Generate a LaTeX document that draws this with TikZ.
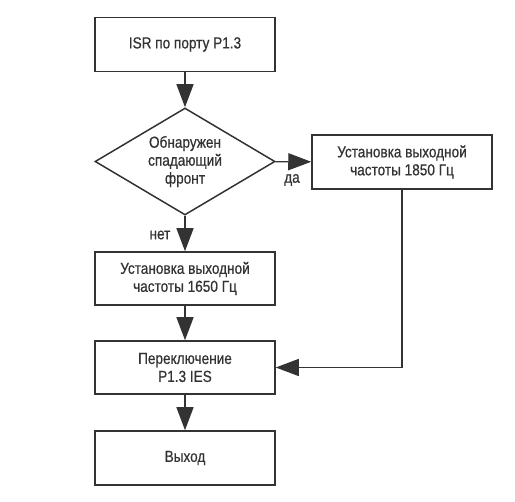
\documentclass[tikz,border=0pt]{standalone}
\usepackage{fontspec}
\setmainfont{Liberation Sans}[FakeStretch=0.85,FakeBold=0.6]
\usetikzlibrary{arrows.meta,positioning,shapes.geometric}
\definecolor{ink}{RGB}{51,51,51}
\tikzset{
  every picture/.style={font=\fontsize{16}{18}\selectfont},
  box/.style={draw=ink,text=ink,line width=1.5pt,minimum width=180pt,minimum height=54pt,align=center,inner sep=2pt},
  decision/.style={diamond,draw=ink,text=ink,line width=1.5pt,minimum width=180pt,minimum height=107pt,aspect=1.7,inner sep=0pt,align=center},
  flow/.style={draw=ink,line width=1.3pt,-{Triangle[length=23pt,width=17pt]}},
  tag/.style={text=ink,inner sep=1pt},
}

\begin{document}
\begin{tikzpicture}[x=1pt,y=-1pt]
  \useasboundingbox (0,0) rectangle (515,502);
  \node[box] (isr) at (185,44.5) {ISR по порту P1.3};
  \node[decision] (edge) at (185,161.5) {Обнаружен\\спадающий\\фронт};
  \node[box] (hi) at (402,162) {Установка выходной\\частоты 1850 Гц};
  \node[box,minimum height=53pt] (lo) at (185,278.5) {Установка выходной\\частоты 1650 Гц};
  \node[box,minimum height=53pt] (toggle) at (185,367.5) {Переключение\\P1.3 IES};
  \node[box] (done) at (185,458) {Выход};
  \node[tag] (yes) at (292,180) {да};
  \node[tag] (no) at (160,235) {нет};
  \draw[flow] (isr) -- (edge);
  \draw[flow] (edge) -- (hi);
  \draw[flow] (edge) -- (lo);
  \draw[flow] (lo) -- (toggle);
  \draw[flow] (toggle) -- (done);
  \draw[flow] (hi.south) |- (toggle.east);
\end{tikzpicture}
\end{document}
